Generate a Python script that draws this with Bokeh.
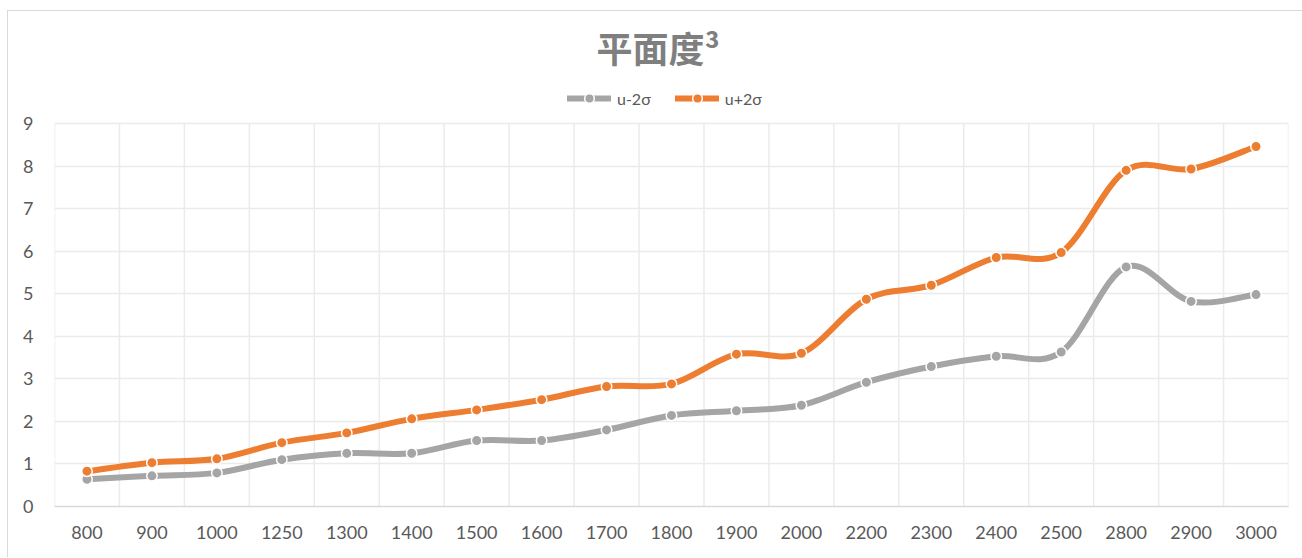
import numpy as np
from bokeh.plotting import figure
from bokeh.models import Range1d, FixedTicker, Legend, LegendItem
from bokeh.embed import file_html
from bokeh.resources import INLINE

# ---- data ----
categories = ["800", "900", "1000", "1250", "1300", "1400", "1500", "1600", "1700", "1800",
              "1900", "2000", "2200", "2300", "2400", "2500", "2800", "2900", "3000"]
lower = [0.64, 0.72, 0.79, 1.10, 1.25, 1.25, 1.55, 1.55, 1.80, 2.14,
         2.25, 2.38, 2.92, 3.29, 3.53, 3.63, 5.63, 4.82, 4.98]
upper = [0.83, 1.03, 1.12, 1.50, 1.73, 2.06, 2.27, 2.51, 2.82, 2.88,
         3.58, 3.60, 4.87, 5.20, 5.85, 5.97, 7.90, 7.93, 8.46]
series_names = ["u-2σ", "u+2σ"]
series_colors = ["#A5A5A5", "#ED7D31"]
y_ticks = [0, 1, 2, 3, 4, 5, 6, 7, 8, 9]
title_text = "平面度³"

n = len(categories)
xs = np.arange(n, dtype=float)
y_max = y_ticks[-1]

# frame extends above the last gridline so that the legend (drawn inside the frame) is not clipped
FIG_H = 547
TOP, BOTTOM = 68, 52
FRAME_H = FIG_H - TOP - BOTTOM   # px; the value axis 0..9 occupies the lower 383 px
AXIS_H = 383
y_end = y_max * FRAME_H / AXIS_H

p = figure(width=1295, height=FIG_H, output_backend="svg", toolbar_location=None,
           x_range=Range1d(-0.5, n - 0.5), y_range=Range1d(0, y_end),
           min_border_left=46, min_border_right=15, min_border_top=TOP, min_border_bottom=BOTTOM)
p.margin = (10, 0, 0, 7)
p.styles = {"border-top": "1px solid #D9D9D9", "border-left": "1px solid #D9D9D9"}
p.outline_line_color = None
p.background_fill_color = "white"
p.border_fill_color = "white"

# title
p.title.text = title_text
p.title.text_font = "Noto Sans CJK SC"
p.title.text_font_size = "36px"
p.title.text_font_style = "bold"
p.title.text_color = "#7F7F7F"
p.title.align = "left"
p.title.offset = 542
p.title.standoff = 14

# axes
p.xaxis.ticker = FixedTicker(ticks=list(range(n)))
p.xaxis.major_label_overrides = {i: c for i, c in enumerate(categories)}
p.yaxis.ticker = FixedTicker(ticks=y_ticks)
for ax in (p.xaxis[0], p.yaxis[0]):
    ax.major_tick_out = 0
    ax.major_tick_in = 0
    ax.minor_tick_out = 0
    ax.minor_tick_in = 0
    ax.major_label_text_font = "Lato"
    ax.major_label_text_font_size = "18px"
    ax.major_label_text_color = "#595959"
p.xaxis.axis_line_color = "#D9D9D9"
p.xaxis.axis_line_width = 1.5
p.xaxis.major_label_standoff = 19
p.yaxis.axis_line_color = None
p.yaxis.major_label_standoff = 21

# grid: horizontal lines at value ticks, vertical lines at category boundaries (0..9 only)
p.xgrid.visible = False
p.ygrid.grid_line_color = "#EBEBEB"
p.ygrid.grid_line_width = 1.5
bounds = [i - 0.5 for i in range(n + 1)]
p.segment(x0=bounds, y0=[0] * len(bounds), x1=bounds, y1=[y_max] * len(bounds),
          line_color="#EBEBEB", line_width=1.5)


def smooth(ys):
    y = np.asarray(ys, dtype=float)
    x = xs
    x0, x1 = x[:-1], x[1:]
    y0, y1 = y[:-1], y[1:]
    xm = np.concatenate([[x[0]], x[:-2]])
    ym = np.concatenate([[y[0]], y[:-2]])
    xn = np.concatenate([x[2:], [x[-1]]])
    yn = np.concatenate([y[2:], [y[-1]]])
    return dict(x0=x0, y0=y0, x1=x1, y1=y1,
                cx0=x0 + (x1 - xm) / 6, cy0=y0 + (y1 - ym) / 6,
                cx1=x1 - (xn - x0) / 6, cy1=y1 - (yn - y0) / 6)


items = []
for name, color, vals in zip(series_names, series_colors, [lower, upper]):
    bz = p.bezier(**smooth(vals), line_color=color, line_width=6, line_cap="round")
    sc = p.scatter(x=xs, y=vals, size=10.5, fill_color=color, line_color="white", line_width=1.5)
    items.append(LegendItem(label=name, renderers=[bz, sc]))

legend = Legend(items=items, orientation="horizontal", location=(513, 396),
                glyph_width=44, glyph_height=24, label_standoff=6, spacing=24,
                padding=5, margin=0, border_line_color=None, background_fill_alpha=0,
                label_text_font="Lato", label_text_font_size="16px", label_text_color="#595959")
p.add_layout(legend)

open("out.html", "w").write(file_html(p, INLINE))
